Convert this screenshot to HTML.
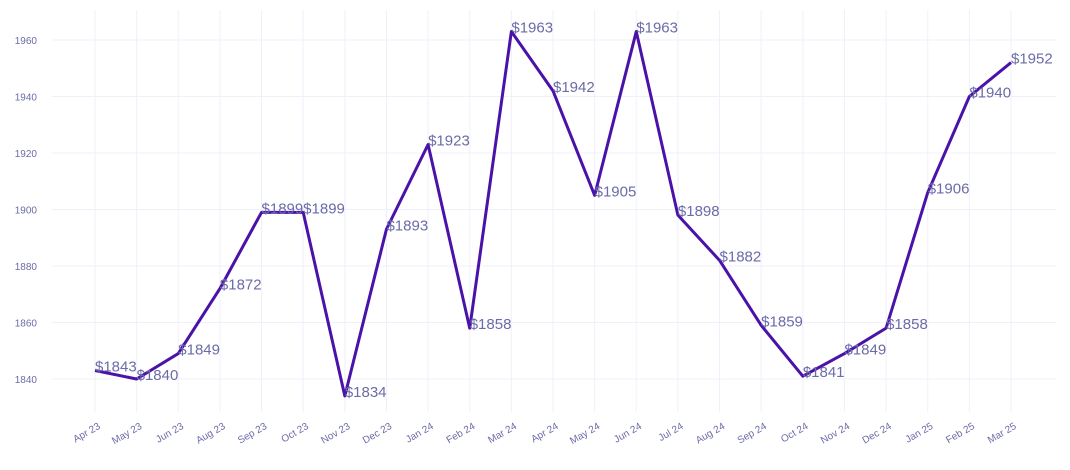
<!DOCTYPE html>
<html><head><meta charset="utf-8"><style>
body{margin:0;background:#fff;font-family:"Liberation Sans",sans-serif}
</style></head><body>
<svg id="c" width="1070" height="465" xmlns="http://www.w3.org/2000/svg"></svg>
<script>
const categories=["Apr 23","May 23","Jun 23","Aug 23","Sep 23","Oct 23","Nov 23","Dec 23","Jan 24","Feb 24","Mar 24","Apr 24","May 24","Jun 24","Jul 24","Aug 24","Sep 24","Oct 24","Nov 24","Dec 24","Jan 25","Feb 25","Mar 25"];
const values=[1843,1840,1849,1872,1899,1899,1834,1893,1923,1858,1963,1942,1905,1963,1898,1882,1859,1841,1849,1858,1906,1940,1952];
const yTicks=[1840,1860,1880,1900,1920,1940,1960];
const svg=document.getElementById('c');
const NS="http://www.w3.org/2000/svg";
const x0=95,x1=1011,L=52,R=1056,T=10,B=412;
const x=i=>x0+i*(x1-x0)/(categories.length-1);
const y=v=>379+(v-1840)*(40-379)/120;
function mk(t,a,p){const e=document.createElementNS(NS,t);for(const k in a)e.setAttribute(k,a[k]);(p||svg).appendChild(e);return e;}
yTicks.forEach(v=>{
  const g=mk('line',{x1:L,x2:R,y1:y(v),y2:y(v),stroke:'#f0f0fa','stroke-width':1});
  
  
  const t=mk('text',{x:37,y:y(v)+4,'text-anchor':'end','font-size':10,fill:'#6b6ba8'});
  t.textContent=v;
  
  
});
categories.forEach((c,i)=>{
  const g=mk('line',{x1:x(i),x2:x(i),y1:T,y2:B,stroke:'#f0f0fa','stroke-width':1});
  
  
  const t=mk('text',{x:x(i)+6,y:428,'text-anchor':'end','font-size':10,fill:'#6b6ba8',transform:`rotate(-30 ${x(i)+6} 428)`});
  t.textContent=c;
  
  
});
const pts=values.map((v,i)=>x(i)+','+y(v)).join(' ');
const pl=mk('polyline',{points:pts,fill:'none',stroke:'#4a12a8','stroke-width':3,'stroke-linejoin':'round'});


values.forEach((v,i)=>{
  const t=mk('text',{x:x(i),y:y(v)+1,'font-size':15,fill:'#6b6ba8'});
  t.textContent='$'+v;
  
  
});
</script>
</body></html>
